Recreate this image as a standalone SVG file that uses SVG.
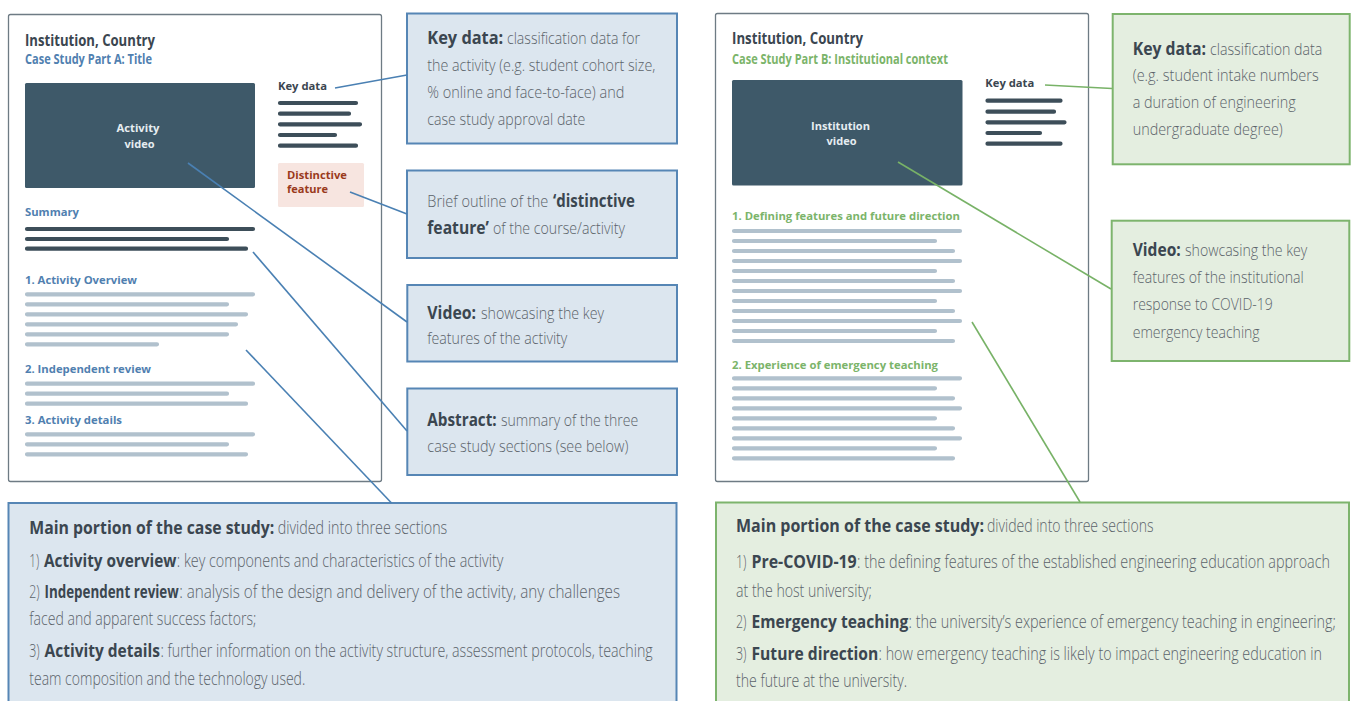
<svg xmlns="http://www.w3.org/2000/svg" width="1352" height="701" viewBox="0 0 1352 701">
  <style>
    .card { fill: #ffffff; stroke: #6e7b84; stroke-width: 1.3; }
    .title { font-family: "Open Sans", "Liberation Sans", sans-serif; font-weight: 700; font-size: 16px; fill: #3b4650; }
    .sub { font-family: "Open Sans", "Liberation Sans", sans-serif; font-weight: 700; font-size: 14px; }
    .lbl { font-family: "Open Sans", "Liberation Sans", sans-serif; font-weight: 700; font-size: 11px; }
    .blue { fill: #5080b0; }
    .green { fill: #7bb46a; }
    .dark { fill: #3b4650; }
    .video { fill: #3e5969; }
    .vtxt { font-family: "Open Sans", "Liberation Sans", sans-serif; font-weight: 700; font-size: 11px; fill: #e6edf1; text-anchor: middle; }
    .dbar { stroke: #3d4e59; stroke-width: 4.2; stroke-linecap: round; fill: none; }
    .lbar { stroke: #b1c1cd; stroke-width: 4.2; stroke-linecap: round; fill: none; }
    .cb { fill: #dce6ef; stroke: #5686b5; stroke-width: 2; }
    .cg { fill: #e4eee0; stroke: #7db46d; stroke-width: 2; }
    /* condensed body text: horizontally squeezed Open Sans */
    .ct { font-family: "Open Sans", "Liberation Sans", sans-serif; font-weight: 300; font-size: 17px; fill: #5b636a; }
    .mt { font-family: "Open Sans", "Liberation Sans", sans-serif; font-weight: 300; font-size: 18.5px; fill: #5b636a; }
    .b { font-weight: 700; fill: #3b4650; }
    .lb { stroke: #4a80b3; stroke-width: 1.6; fill: none; }
    .lg { stroke: #78b267; stroke-width: 1.6; fill: none; }
  </style>

  <!-- Part A page mock-up -->
  <g id="card-a">
    <rect class="card" x="8.5" y="14.5" width="373" height="467" rx="2"/>
    <text class="title" x="25" y="46" textLength="130" lengthAdjust="spacingAndGlyphs">Institution, Country</text>
    <text class="sub blue" x="25" y="64" textLength="127" lengthAdjust="spacingAndGlyphs">Case Study Part A: Title</text>
    <rect class="video" x="25" y="83" width="230" height="105" rx="1.5"/>
    <text class="vtxt" x="138" y="132" textLength="43" lengthAdjust="spacingAndGlyphs">Activity</text>
    <text class="vtxt" x="139.5" y="148" textLength="30" lengthAdjust="spacingAndGlyphs">video</text>
    <text class="lbl dark" x="278" y="90" textLength="49" lengthAdjust="spacingAndGlyphs">Key data</text>
    <path class="dbar" d="M280 103H356M280 113.7H349M280 124.3H360M280 135H335M280 145.7H356"/>
    <rect x="278" y="163" width="86" height="44" rx="1.5" fill="#f7e5e0"/>
    <text class="lbl" fill="#9a3a1c" x="287" y="179" textLength="60" lengthAdjust="spacingAndGlyphs">Distinctive</text>
    <text class="lbl" fill="#9a3a1c" x="287" y="193" textLength="41" lengthAdjust="spacingAndGlyphs">feature</text>
    <text class="lbl blue" x="25" y="216" textLength="54" lengthAdjust="spacingAndGlyphs">Summary</text>
    <path class="dbar" d="M27 229H253M27 239H227M27 248.7H246"/>
    <text class="lbl blue" x="25" y="283.5" textLength="112" lengthAdjust="spacingAndGlyphs">1. Activity Overview</text>
    <path class="lbar" d="M27 294.3H253M27 304.3H227M27 314.3H246M27 324.3H236M27 334.3H227M27 344.3H157"/>
    <text class="lbl blue" x="25" y="372.5" textLength="126" lengthAdjust="spacingAndGlyphs">2. Independent review</text>
    <path class="lbar" d="M27 383.7H253M27 393.7H227M27 403.7H246"/>
    <text class="lbl blue" x="25" y="423.5" textLength="97" lengthAdjust="spacingAndGlyphs">3. Activity details</text>
    <path class="lbar" d="M27 434.3H253M27 444.3H227M27 454.3H246"/>
  </g>

  <!-- Part B page mock-up -->
  <g id="card-b">
    <rect class="card" x="715.5" y="13.5" width="373" height="468" rx="2"/>
    <text class="title" x="732" y="44" textLength="131" lengthAdjust="spacingAndGlyphs">Institution, Country</text>
    <text class="sub green" x="732" y="63.5" textLength="216" lengthAdjust="spacingAndGlyphs">Case Study Part B: Institutional context</text>
    <rect class="video" x="732" y="80" width="230.5" height="105.5" rx="1.5"/>
    <text class="vtxt" x="840.5" y="129.5" textLength="59" lengthAdjust="spacingAndGlyphs">Institution</text>
    <text class="vtxt" x="841.5" y="145" textLength="30" lengthAdjust="spacingAndGlyphs">video</text>
    <text class="lbl dark" x="985.3" y="87" textLength="49" lengthAdjust="spacingAndGlyphs">Key data</text>
    <path class="dbar" d="M987.5 100.7H1060.5M987.5 111.7H1054M987.5 122.3H1064.5M987.5 133H1040M987.5 143.7H1060.5"/>
    <text class="lbl green" x="732" y="220" textLength="228" lengthAdjust="spacingAndGlyphs">1. Defining features and future direction</text>
    <path class="lbar" d="M734 231H960M734 241H935M734 251H953M734 261H960M734 271H935M734 281H953M734 291H960M734 301H935M734 311H953M734 321H960M734 331H935M734 341H953"/>
    <text class="lbl green" x="732" y="368.5" textLength="206" lengthAdjust="spacingAndGlyphs">2. Experience of emergency teaching</text>
    <path class="lbar" d="M734 378.3H960M734 388.3H935M734 398.3H953M734 408.3H960M734 418.3H935M734 428.3H953M734 438.3H960M734 448.3H935M734 458.3H953"/>
  </g>

  <!-- Part A callouts -->
  <g id="callout-a-keydata">
    <rect class="cb" x="407" y="13.5" width="270" height="130"/>
    <text class="ct b" transform="translate(427.3 43.5) scale(0.69 1)" textLength="110.1" lengthAdjust="spacingAndGlyphs">Key data:</text>
    <text class="ct" transform="translate(507 43.5) scale(0.75 1)" textLength="177.3" lengthAdjust="spacingAndGlyphs">classification data for</text>
    <text class="ct" transform="translate(427.3 70.5) scale(0.75 1)" textLength="304" lengthAdjust="spacingAndGlyphs">the activity (e.g. student cohort size,</text>
    <text class="ct" transform="translate(427.3 97.5) scale(0.75 1)" textLength="262.7" lengthAdjust="spacingAndGlyphs">% online and face-to-face) and</text>
    <text class="ct" transform="translate(427.3 124.5) scale(0.75 1)" textLength="210.7" lengthAdjust="spacingAndGlyphs">case study approval date</text>
  </g>
  <g id="callout-a-distinctive">
    <rect class="cb" x="407" y="170.5" width="270" height="87.5"/>
    <text class="ct" transform="translate(427.3 207) scale(0.75 1)" textLength="161.3" lengthAdjust="spacingAndGlyphs">Brief outline of the</text>
    <text class="ct b" transform="translate(553 207) scale(0.69 1)" textLength="118.8" lengthAdjust="spacingAndGlyphs">‘distinctive</text>
    <text class="ct b" transform="translate(427.3 234) scale(0.69 1)" textLength="89.4" lengthAdjust="spacingAndGlyphs">feature’</text>
    <text class="ct" transform="translate(493 234) scale(0.75 1)" textLength="176" lengthAdjust="spacingAndGlyphs">of the course/activity</text>
  </g>
  <g id="callout-a-video">
    <rect class="cb" x="407.3" y="285" width="269.7" height="76.5"/>
    <text class="ct b" transform="translate(427.3 318.5) scale(0.69 1)" textLength="70.6" lengthAdjust="spacingAndGlyphs">Video:</text>
    <text class="ct" transform="translate(481 318.5) scale(0.75 1)" textLength="164" lengthAdjust="spacingAndGlyphs">showcasing the key</text>
    <text class="ct" transform="translate(427.3 344) scale(0.75 1)" textLength="186.7" lengthAdjust="spacingAndGlyphs">features of the activity</text>
  </g>
  <g id="callout-a-abstract">
    <rect class="cb" x="407.3" y="388.5" width="269.7" height="86.5"/>
    <text class="ct b" transform="translate(427.3 425.5) scale(0.69 1)" textLength="100.6" lengthAdjust="spacingAndGlyphs">Abstract:</text>
    <text class="ct" transform="translate(501 425.5) scale(0.75 1)" textLength="183.1" lengthAdjust="spacingAndGlyphs">summary of the three</text>
    <text class="ct" transform="translate(427.3 452) scale(0.75 1)" textLength="268" lengthAdjust="spacingAndGlyphs">case study sections (see below)</text>
  </g>
  <g id="callout-a-main">
    <rect class="cb" x="8.5" y="503" width="668" height="220"/>
    <text class="mt b" transform="translate(29.3 534.3) scale(0.69 1)" textLength="355.1" lengthAdjust="spacingAndGlyphs">Main portion of the case study:</text>
    <text class="mt" transform="translate(277.7 534.3) scale(0.75 1)" textLength="226.1" lengthAdjust="spacingAndGlyphs">divided into three sections</text>
    <text class="mt" transform="translate(29.3 566.7) scale(0.75 1)" textLength="13.3" lengthAdjust="spacingAndGlyphs">1)</text>
    <text class="mt b" transform="translate(44 566.7) scale(0.69 1)" textLength="191.8" lengthAdjust="spacingAndGlyphs">Activity overview</text>
    <text class="mt" transform="translate(176.8 566.7) scale(0.75 1)" textLength="435.3" lengthAdjust="spacingAndGlyphs">: key components and characteristics of the activity</text>
    <text class="mt" transform="translate(29.3 598.3) scale(0.75 1)" textLength="13.9" lengthAdjust="spacingAndGlyphs">2)</text>
    <text class="mt b" transform="translate(44.5 598.3) scale(0.69 1)" textLength="194.5" lengthAdjust="spacingAndGlyphs">Independent review</text>
    <text class="mt" transform="translate(179.2 598.3) scale(0.75 1)" textLength="587.7" lengthAdjust="spacingAndGlyphs">: analysis of the design and delivery of the activity, any challenges</text>
    <text class="mt" transform="translate(29.3 625) scale(0.75 1)" textLength="302.7" lengthAdjust="spacingAndGlyphs">faced and apparent success factors;</text>
    <text class="mt" transform="translate(29.3 656.7) scale(0.75 1)" textLength="13.9" lengthAdjust="spacingAndGlyphs">3)</text>
    <text class="mt b" transform="translate(44.5 656.7) scale(0.69 1)" textLength="167.4" lengthAdjust="spacingAndGlyphs">Activity details</text>
    <text class="mt" transform="translate(160.5 656.7) scale(0.75 1)" textLength="656.3" lengthAdjust="spacingAndGlyphs">: further information on the activity structure, assessment protocols, teaching</text>
    <text class="mt" transform="translate(29.3 685) scale(0.75 1)" textLength="368" lengthAdjust="spacingAndGlyphs">team composition and the technology used.</text>
  </g>

  <!-- Part B callouts -->
  <g id="callout-b-keydata">
    <rect class="cg" x="1112.7" y="14" width="237" height="150.3"/>
    <text class="ct b" transform="translate(1132.7 54.5) scale(0.69 1)" textLength="106.2" lengthAdjust="spacingAndGlyphs">Key data:</text>
    <text class="ct" transform="translate(1210 54.5) scale(0.75 1)" textLength="149.7" lengthAdjust="spacingAndGlyphs">classification data</text>
    <text class="ct" transform="translate(1132.7 81) scale(0.75 1)" textLength="248" lengthAdjust="spacingAndGlyphs">(e.g. student intake numbers</text>
    <text class="ct" transform="translate(1132.7 108.3) scale(0.75 1)" textLength="217.3" lengthAdjust="spacingAndGlyphs">a duration of engineering</text>
    <text class="ct" transform="translate(1132.7 135) scale(0.75 1)" textLength="200" lengthAdjust="spacingAndGlyphs">undergraduate degree)</text>
  </g>
  <g id="callout-b-video">
    <rect class="cg" x="1111.7" y="220.7" width="237.6" height="140.3"/>
    <text class="ct b" transform="translate(1132.7 256.3) scale(0.69 1)" textLength="69.6" lengthAdjust="spacingAndGlyphs">Video:</text>
    <text class="ct" transform="translate(1185 256.3) scale(0.75 1)" textLength="163.1" lengthAdjust="spacingAndGlyphs">showcasing the key</text>
    <text class="ct" transform="translate(1132.7 283.3) scale(0.75 1)" textLength="228" lengthAdjust="spacingAndGlyphs">features of the institutional</text>
    <text class="ct" transform="translate(1132.7 310.3) scale(0.75 1)" textLength="186.7" lengthAdjust="spacingAndGlyphs">response to COVID-19</text>
    <text class="ct" transform="translate(1132.7 337.7) scale(0.75 1)" textLength="169.3" lengthAdjust="spacingAndGlyphs">emergency teaching</text>
  </g>
  <g id="callout-b-main">
    <rect class="cg" x="716" y="502.5" width="633" height="220"/>
    <text class="mt b" transform="translate(736 532) scale(0.69 1)" textLength="359.4" lengthAdjust="spacingAndGlyphs">Main portion of the case study:</text>
    <text class="mt" transform="translate(987 532) scale(0.75 1)" textLength="222" lengthAdjust="spacingAndGlyphs">divided into three sections</text>
    <text class="mt" transform="translate(736 568.3) scale(0.75 1)" textLength="14" lengthAdjust="spacingAndGlyphs">1)</text>
    <text class="mt b" transform="translate(751.5 568.3) scale(0.69 1)" textLength="152.5" lengthAdjust="spacingAndGlyphs">Pre-COVID-19</text>
    <text class="mt" transform="translate(857 568.3) scale(0.75 1)" textLength="630.7" lengthAdjust="spacingAndGlyphs">: the defining features of the established engineering education approach</text>
    <text class="mt" transform="translate(736 596.7) scale(0.75 1)" textLength="181.3" lengthAdjust="spacingAndGlyphs">at the host university;</text>
    <text class="mt" transform="translate(736 627.7) scale(0.75 1)" textLength="14" lengthAdjust="spacingAndGlyphs">2)</text>
    <text class="mt b" transform="translate(751.5 627.7) scale(0.69 1)" textLength="227.2" lengthAdjust="spacingAndGlyphs">Emergency teaching</text>
    <text class="mt" transform="translate(908.5 627.7) scale(0.75 1)" textLength="570" lengthAdjust="spacingAndGlyphs">: the university’s experience of emergency teaching in engineering;</text>
    <text class="mt" transform="translate(736 660) scale(0.75 1)" textLength="14" lengthAdjust="spacingAndGlyphs">3)</text>
    <text class="mt b" transform="translate(751.5 660) scale(0.69 1)" textLength="183.8" lengthAdjust="spacingAndGlyphs">Future direction</text>
    <text class="mt" transform="translate(878.5 660) scale(0.75 1)" textLength="591.3" lengthAdjust="spacingAndGlyphs">: how emergency teaching is likely to impact engineering education in</text>
    <text class="mt" transform="translate(736 686.7) scale(0.75 1)" textLength="228" lengthAdjust="spacingAndGlyphs">the future at the university.</text>
  </g>

  <!-- leader lines from page elements to their callouts -->
  <g id="connectors">
    <path class="lb" d="M335 88L407 75"/>
    <path class="lb" d="M350 192L407 214"/>
    <path class="lb" d="M188 163L407 322"/>
    <path class="lb" d="M253 252L407 431"/>
    <path class="lb" d="M246 350L391.5 503"/>
    <path class="lg" d="M1045 85L1112 88.5"/>
    <path class="lg" d="M898 162L1111 289"/>
    <path class="lg" d="M972 322L1080 502"/>
  </g>
</svg>
